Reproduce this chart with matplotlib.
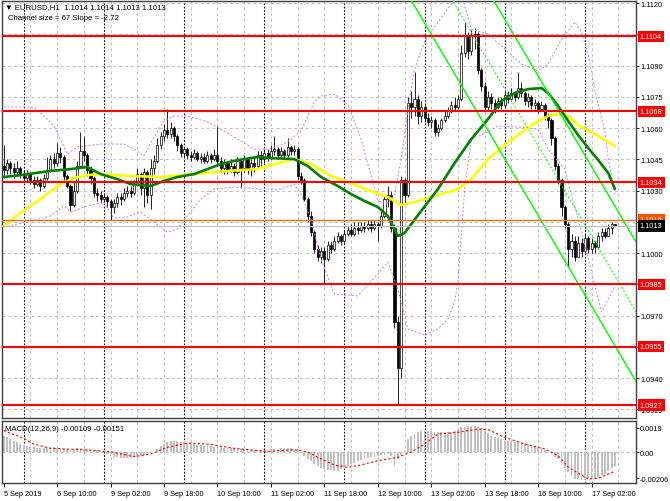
import numpy as np
import matplotlib
matplotlib.use("Agg")
import matplotlib.pyplot as plt
from matplotlib.transforms import blended_transform_factory

plt.rcParams['font.family'] = ['Liberation Sans', 'DejaVu Sans']

# EURUSD H1 from 5 Sep 18:00; prices are pips above 1.1000
first_open = 42
close_pips = [40, 43, 41, 39, 41, 38, 36, 38, 35, 33,
              35, 32, 36, 40, 45, 43, 48, 46, 37, 32,
              23, 30, 42, 49, 47, 40, 36, 29, 28, 26,
              27, 25, 22, 24, 27, 26, 29, 30, 29, 33,
              38, 31, 39, 28, 41, 44, 52, 56, 59, 57,
              60, 56, 52, 48, 50, 47, 46, 48, 45, 46,
              44, 47, 45, 47, 44, 41, 43, 40, 42, 39,
              44, 41, 45, 40, 43, 42, 47, 45, 48, 46,
              49, 50, 47, 49, 47, 51, 49, 50, 37, 35,
              26, 18, 10, 2, -2, 1, -3, 4, 2, 6,
              8, 6, 9, 11, 9, 12, 11, 13, 12, 14,
              12, 14, 13, 18, 26, 28, 12, -33, -55, 35,
              28, 72, 70, 74, 66, 70, 65, 63, 64, 58,
              60, 64, 66, 68, 71, 70, 74, 96, 104, 97,
              104, 105, 88, 80, 70, 75, 72, 70, 73, 71,
              76, 74, 77, 75, 79, 77, 73, 75, 71, 72,
              69, 71, 66, 64, 55, 42, 35, 22, 14, 2,
              6, -2, 5, 1, 7, 2, 5, 3, 8, 10,
              8, 12, 14, 13]
high_pips = [52, 45, 44, 43, 44, 42, 40, 40, 39, 37,
             37, 36, 38, 46, 47, 48, 53, 51, 47, 38,
             33, 34, 44, 58, 56, 48, 42, 37, 31, 30,
             29, 28, 26, 26, 29, 29, 31, 32, 32, 35,
             41, 39, 41, 40, 45, 47, 55, 58, 62, 69,
             63, 61, 57, 53, 51, 51, 49, 50, 49, 48,
             48, 49, 48, 50, 61, 46, 45, 44, 45, 43,
             46, 45, 47, 46, 45, 46, 49, 49, 50, 50,
             52, 56, 51, 51, 50, 55, 52, 52, 51, 39,
             36, 27, 20, 11, 4, 3, 3, 6, 6, 8,
             10, 9, 11, 13, 14, 15, 15, 15, 15, 16,
             16, 16, 15, 20, 28, 32, 30, 14, -30, 37,
             36, 75, 78, 87, 76, 73, 71, 67, 66, 65,
             62, 65, 68, 70, 73, 75, 76, 100, 111, 106,
             107, 108, 106, 89, 82, 78, 77, 74, 75, 75,
             78, 78, 79, 78, 87, 82, 78, 77, 76, 74,
             73, 73, 72, 67, 65, 56, 43, 36, 23, 15,
             9, 8, 8, 7, 9, 8, 7, 6, 10, 12,
             12, 14, 15, 14]
low_pips = [36, 38, 38, 36, 37, 36, 34, 34, 33, 31,
            32, 30, 31, 35, 39, 41, 42, 43, 35, 31,
            20, 22, 29, 41, 44, 37, 33, 27, 25, 24,
            24, 22, 16, 19, 22, 23, 25, 27, 27, 28,
            32, 28, 22, 24, 21, 38, 43, 50, 54, 55,
            55, 54, 49, 46, 46, 45, 44, 45, 44, 43,
            43, 43, 43, 44, 42, 39, 38, 38, 39, 37,
            38, 31, 39, 38, 37, 39, 41, 42, 43, 44,
            45, 47, 45, 46, 45, 46, 47, 47, 35, 33,
            25, 15, 8, 0, -4, -5, -15, -4, 0, 1,
            5, 4, 5, 8, 8, 8, 9, 10, 10, 11,
            10, 11, 6, 12, 17, 22, 10, -36, -73, -60,
            24, 27, 65, 66, 62, 63, 63, 61, 60, 56,
            56, 59, 63, 65, 67, 68, 69, 73, 94, 93,
            95, 98, 86, 78, 68, 68, 69, 67, 69, 69,
            70, 72, 73, 73, 74, 75, 71, 70, 69, 69,
            67, 68, 64, 60, 52, 40, 33, 18, 12, -6,
            -2, -4, -1, -2, 0, 0, 0, 0, 2, 6,
            7, 8, 9, 13]

# moving averages and Bollinger bands, read at these bars
green_bars = [0, 5, 14, 20, 25, 29, 34, 38, 44, 48, 52, 57, 61, 65, 70, 76, 80, 87, 91, 95,
              100, 104, 108, 112, 115, 118, 120, 125, 130, 135, 140, 145, 149, 153, 157, 161,
              163, 166, 169, 172, 175, 178, 181, 183]
green_pips = [36.5, 37.4, 39.4, 40.3, 41.3, 37.9, 35.5, 33.1, 32.2, 34.6, 36.5, 37.9, 40.3, 42.7,
              44.6, 46.1, 45.6, 45.1, 41.8, 36.5, 32.2, 28.3, 25.0, 22.1, 17.8, 8.2, 9.6, 20.2,
              30.7, 43.2, 54.7, 64.3, 73.0, 76.8, 78.7, 79.2, 76.8, 70.6, 63.4, 56.6, 50.4, 44.6,
              38.4, 30.7]
yellow_bars = [0, 5, 11, 17, 21, 25, 29, 38, 47, 57, 67, 76, 80, 87, 92, 98, 104, 109, 115, 119,
               123, 130, 136, 140, 145, 151, 154, 159, 163, 166, 169, 172, 177, 180, 183]
yellow_pips = [12.9, 19.2, 25.9, 33.1, 36.0, 37.4, 37.9, 37.0, 36.5, 37.9, 39.4, 40.3, 42.2, 45.1,
               42.7, 37.0, 33.6, 30.2, 26.9, 23.0, 24.5, 27.8, 30.7, 35.5, 45.1, 53.3, 56.6, 62.4,
               65.8, 66.7, 65.8, 61.4, 57.1, 54.2, 51.4]
bb_up_bars = [0, 9, 13, 15, 18, 19, 22, 29, 36, 39, 42, 45, 48, 51, 55, 61, 65, 69, 75, 79,
              84, 89, 93, 95, 99, 103, 107, 112, 115, 117, 119, 121, 123, 126, 130, 134, 137, 140,
              145, 149, 155, 160, 163, 167, 171, 173, 175, 177, 180, 181, 183]
bb_up_pips = [70.1, 70.1, 64.3, 61.0, 51.4, 47.5, 50.9, 52.3, 52.3, 49.9, 46.6, 55.7, 63.4, 65.8,
              65.8, 62.9, 59.5, 55.7, 49.9, 49.9, 52.3, 58.6, 72.5, 75.4, 76.3, 71.5, 54.7, 25.0,
              24.0, 28.0, 45.1, 69.1, 88.3, 101.3, 110.9, 119.5, 124.3, 107.5, 105.1, 99.4, 90.7,
              87.4, 90.7, 102.7, 110.9, 106.0, 95.0, 78.0, 58.0, 45.0, 28.0]
bb_lo_bars = [0, 7, 14, 18, 20, 25, 30, 33, 37, 41, 45, 49, 52, 55, 59, 63, 69, 77, 83, 87,
              89, 92, 95, 99, 106, 112, 115, 118, 121, 126, 130, 133, 135, 136, 138, 140, 145, 148,
              154, 160, 163, 168, 172, 175, 179, 181, 183]
bb_lo_pips = [12.5, 14.9, 17.8, 22.6, 19.7, 22.6, 24.5, 16.8, 17.3, 19.7, 14.9, 10.1, 11.5, 17.8,
              25.9, 30.7, 31.7, 30.7, 30.7, 33.1, 28.3, 16.3, -2.9, -19.7, -20.6, -10.1, -4.3,
              -17.3, -36.5, -39.4, -36.5, -31.7, -23.5, -13.9, 30.7, 54.7, 58.1, 61.0, 60.5, 59.5,
              49.9, 40.3, 16.3, -2.9, -28.3, -22.1, -15.8]

# regression channel: lower edge end points and channel size, in pips
chan_bars = [110, 196]
chan_low_pips = [154.0, -79.9]
chan_size = 67

# MACD(12,26,9) histogram, in units of 0.0001
macd = [12.7, 11.5, 10.3, 9.0, 7.6, 6.3, 5.5, 4.8, 4.0, 3.7,
        3.4, 3.2, 3.0, 3.3, 3.7, 4.0, 3.5, 3.0, 2.5, 2.0,
        1.6, 2.2, 2.8, 3.4, 2.4, 2.0, 1.6, 1.4, 1.2, 1.0,
        -0.3, -1.6, -2.8, -4.0, -4.3, -4.6, -4.8, -4.8, -4.6, -4.2,
        -3.6, -3.0, -2.2, -1.4, -0.7, 0.0, 2.5, 5.0, 6.5, 7.8,
        8.7, 8.7, 8.5, 8.2, 7.8, 7.3, 6.8, 6.3, 5.9, 5.5,
        5.1, 4.7, 4.4, 4.1, 3.8, 3.6, 3.4, 3.2, 3.0, 2.8,
        2.5, 2.2, 2.0, 1.9, 1.8, 1.8, 1.7, 1.7, 1.8, 1.8,
        2.0, 2.3, 2.6, 2.8, 3.0, 3.0, 2.9, 2.7, 2.4, -0.2,
        -3.0, -5.2, -7.4, -9.5, -11.0, -12.3, -13.5, -14.0, -14.5, -14.8,
        -14.8, -13.5, -12.2, -10.8, -9.5, -8.5, -7.5, -6.5, -5.5, -4.9,
        -4.3, -3.7, -3.0, -2.5, -2.0, -1.6, -3.0, -10.8, -5.5, -2.0,
        1.0, 10.3, 13.0, 14.5, 15.6, 16.3, 16.9, 16.7, 16.4, 16.2,
        16.0, 15.9, 15.8, 15.7, 15.6, 16.5, 17.8, 19.5, 20.0, 20.5,
        20.8, 20.3, 19.6, 18.7, 16.8, 14.8, 12.9, 11.9, 10.9, 10.0,
        9.0, 8.7, 8.3, 8.0, 7.6, 7.1, 6.6, 6.0, 5.5, 4.6,
        3.7, 2.9, 1.5, 0.0, -1.8, -3.6, -5.5, -9.0, -12.5, -16.0,
        -19.0, -21.4, -21.6, -21.8, -21.9, -21.6, -21.2, -20.8, -19.7, -18.5,
        -17.4, -15.3, -13.0, -10.9]
sig_bars = [0, 5, 9, 14, 24, 32, 39, 44, 49, 55, 61, 69, 79, 87, 91, 95, 99, 103, 106, 112,
            118, 122, 126, 130, 136, 142, 145, 150, 156, 162, 166, 169, 175, 178, 183]
sig_vals = [16.9, 11.9, 6.3, 2.9, 1.8, 0.2, -3.7, -1.6, 3.7, 7.1, 6.3, 2.9, 0.5, 1.8, 0.0, -5.5,
            -10.3, -12.1, -10.8, -6.9, -4.2, 0.0, 6.3, 14.2, 15.6, 18.2, 17.7, 11.6, 6.3, 2.4,
            -2.9, -12.1, -21.4, -20.8, -15.1]

red_levels = [1.1104, 1.1068, 1.1034, 1.0985, 1.0955, 1.0927]
orange_level = 1.1016
last_price = 1.1013

price_ticks = [1.1120, 1.1105, 1.1090, 1.1075, 1.1060, 1.1045, 1.1030, 1.1015,
               1.1000, 1.0985, 1.0970, 1.0955, 1.0940, 1.0925]
price_tick_labels = ["1.1120", "", "1.1090", "1.1075", "1.1060", "1.1045", "1.1030", "",
                     "1.1000", "", "1.0970", "", "1.0940", "1.0925"]
macd_ticks = [0.0019, 0.0, -0.00206]
macd_tick_labels = ["0.0019", "0.00", "-0.00206"]

time_bars = [0, 16, 32, 48, 64, 80, 96, 112, 128, 144, 160, 176]
time_labels = ["5 Sep 2019", "6 Sep 10:00", "9 Sep 02:00", "9 Sep 18:00", "10 Sep 10:00",
               "11 Sep 02:00", "11 Sep 18:00", "12 Sep 10:00", "13 Sep 02:00", "13 Sep 18:00",
               "16 Sep 10:00", "17 Sep 02:00"]
grid_bars = [8, 16, 24, 32, 40, 48, 56, 64, 72, 80, 88, 96, 104, 112, 120, 128, 136, 144,
             152, 160, 168, 176, 184]
day_bars = [6, 30, 54, 78, 102, 126, 150, 174]


def pr(p):
    return 1.1 + np.asarray(p, dtype=float) / 10000


W, H = 670, 502
FS = 5.6   # chart texts
FT = 5.3   # scale labels
fig = plt.figure(figsize=(W / 100, H / 100), dpi=100)
ax = fig.add_axes([2 / W, 1 - 419 / H, 634 / W, 417 / H])
am = fig.add_axes([2 / W, 1 - 484 / H, 634 / W, 62 / H])

for a in (ax, am):
    a.set_xlim(-0.5, 189.3)
    for b in grid_bars:
        a.axvline(b, color='#c0c0c0', lw=0.7, ls=(0, (3, 3)), zorder=0.5)
    for b in day_bars:
        a.axvline(b, color='black', lw=0.8, ls=(0, (1.5, 1.5)), zorder=0.6)
    for s in a.spines.values():
        s.set_color('#404040')
        s.set_linewidth(1.0)

# main chart
ax.set_ylim(1.09208, 1.11210)
for t in price_ticks:
    ax.axhline(t, color='#c0c0c0', lw=0.7, ls=(0, (3, 3)), zorder=0.5)

idx = np.arange(len(close_pips))
c = pr(close_pips)
o = pr([first_open] + close_pips[:-1])
hi = pr(high_pips)
lo = pr(low_pips)
up = c >= o
ax.vlines(idx, lo, hi, color='black', lw=0.6, zorder=3)
body = np.maximum(np.abs(c - o), 0.000015)
ax.bar(idx, body, bottom=np.minimum(o, c), width=0.62,
       color=np.where(up, 'white', 'black'), edgecolor='black', lw=0.5, zorder=4)

ax.plot(bb_up_bars, pr(bb_up_pips), color='#c77dff', lw=0.7, ls=(0, (2, 2)), zorder=5)
ax.plot(bb_lo_bars, pr(bb_lo_pips), color='#c77dff', lw=0.7, ls=(0, (2, 2)), zorder=5)
ax.plot(yellow_bars, pr(yellow_pips), color='#ffff00', lw=1.9, zorder=6, solid_capstyle='round')
ax.plot(green_bars, pr(green_pips), color='#008000', lw=1.9, zorder=6.5, solid_capstyle='round')

low_line = pr(chan_low_pips)
ax.plot(chan_bars, low_line, color='#00ff00', lw=1.0, zorder=7)
ax.plot(chan_bars, low_line + chan_size / 10000, color='#00ff00', lw=1.0, zorder=7)
ax.plot(chan_bars, low_line + chan_size / 20000, color='#00ff00', lw=0.7,
        ls=(0, (2, 2)), zorder=7)

tr = blended_transform_factory(ax.transAxes, ax.transData)
ax.axhline(last_price, color='#c0c0c0', lw=0.8, zorder=7)
ax.axhline(orange_level, color='#ff6a00', lw=0.9, zorder=7)
for lv in red_levels:
    ax.axhline(lv, color='#ff0000', lw=1.5, zorder=8)

ax.yaxis.tick_right()
ax.set_yticks(price_ticks)
ax.set_yticklabels(price_tick_labels)
ax.tick_params(axis='y', labelsize=FT, length=2, width=0.6, pad=1, colors='black')
ax.set_xticks([])


def tag(y, text, fc):
    ax.text(1.006, y, text, transform=tr, ha='left', va='center', fontsize=FT, color='white',
            bbox=dict(boxstyle='square,pad=0.3', fc=fc, ec='none'), clip_on=False, zorder=20)


for lv in red_levels:
    tag(lv, f"{lv:.4f}", '#ff0000')
tag(orange_level, f"{orange_level:.4f}", '#ff5000')
tag(last_price, f"{last_price:.4f}", 'black')

# MACD panel
am.set_ylim(-0.002454, 0.002454)
am.axhline(0, color='#c0c0c0', lw=0.7, ls=(0, (3, 3)), zorder=0.5)
am.bar(idx, np.asarray(macd) / 10000, width=0.55, color='#c0c0c0', zorder=2)
am.plot(sig_bars, np.asarray(sig_vals) / 10000, color='red', lw=0.8, ls=(0, (2, 2)), zorder=3)
am.yaxis.tick_right()
am.set_yticks(macd_ticks)
am.set_yticklabels(macd_tick_labels)
am.tick_params(axis='y', labelsize=FT, length=2, width=0.6, pad=1)
am.set_xticks(time_bars)
am.set_xticklabels(time_labels, ha='left')
am.tick_params(axis='x', labelsize=FT, length=3, width=0.6, pad=2)

fig.text(5 / W, 1 - 8 / H, "\u25bc EURUSD,H1  1.1014 1.1014 1.1013 1.1013",
         fontsize=FS, va='center', ha='left')
fig.text(8 / W, 1 - 19 / H, "Channel size = 67 Slope = -2.72", fontsize=FS, va='center', ha='left')
fig.text(5 / W, 1 - 430 / H, "MACD(12,26,9) -0.00109 -0.00151", fontsize=FS, va='center',
         ha='left')

fig.savefig("out.png", dpi=100)
